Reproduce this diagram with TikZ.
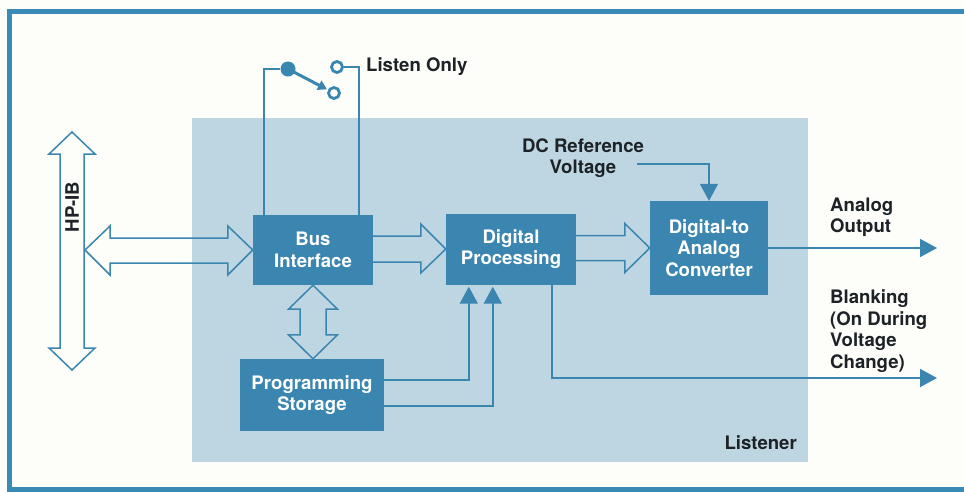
\documentclass[tikz,border=0pt]{standalone}
\usepackage{fontspec}
\setsansfont{TeX Gyre Heros}
\usetikzlibrary{calc,arrows.meta}
\definecolor{frameblue}{RGB}{58,138,182}
\definecolor{panelblue}{RGB}{190,214,226}
\definecolor{boxblue}{RGB}{58,134,176}
\definecolor{ink}{RGB}{28,34,38}
\definecolor{paper}{RGB}{253,253,250}
\begin{document}
\begin{tikzpicture}[x=1pt,y=-1pt,
  font=\sffamily\bfseries\fontsize{18.6}{21.5}\selectfont,
  block/.style={fill=boxblue, text=white, align=center, inner sep=0pt},
  txt/.style={text=ink, align=left, inner sep=0pt},
  hollow/.style={draw=boxblue, line width=1.5pt, line join=miter},
  wire/.style={draw=boxblue, line width=1.7pt},
  sig/.style={draw=boxblue, line width=1.7pt, -{Triangle[length=17pt,width=18pt]}},
  contact/.style={circle, draw=boxblue, line width=2.8pt, minimum size=11pt, inner sep=0pt},
  pivotdot/.style={circle, fill=boxblue, minimum size=15pt, inner sep=0pt},
]
% page and frame
\fill[paper] (0,0) rectangle (964,491);
\useasboundingbox (0,0) rectangle (964,491);
\draw[frameblue, line width=5pt, line join=miter] (964,11) -- (9.5,11) -- (9.5,489) -- (964,489);

% listener panel
\fill[panelblue] (192,118) rectangle (808,462);
\node[txt, anchor=east] (listener) at (797,443) {Listener};

% function blocks
\node[block, minimum width=120pt, minimum height=70pt] (bus) at (313,250) {Bus\\Interface};
\node[block, minimum width=130pt, minimum height=71pt] (dp) at (511,249) {Digital\\Processing};
\node[block, minimum width=118pt, minimum height=94pt] (dac) at (709,248) {Digital-to\\Analog\\Converter};
\node[block, minimum width=144pt, minimum height=72pt] (ps) at (312,395) {Programming\\Storage};

% HP-IB bus
\draw[hollow] (72,132) -- (95,154) -- (84,154) -- (84,348) -- (95,348) -- (72,370)
  -- (49,348) -- (60,348) -- (60,154) -- (49,154) -- cycle;
\node[txt, rotate=90] (hpib) at (72,207) {HP-IB};
\coordinate (hpibR) at (85,250);

% HP-IB <-> bus interface
\draw[hollow] (bus.west) -- ++(-25,-24) -- ++(0,12) -- ($(hpibR)+(25,-12)$) -- ++(0,-12)
  -- (hpibR) -- ++(25,25) -- ++(0,-12) -- ($(bus.west)+(-25,13)$) -- ++(0,12) -- cycle;

% bus interface -> digital processing
\coordinate (a1) at (bus.east |- dp.west);
\draw[hollow] ($(a1)+(0,-13)$) -- ($(dp.west)+(-25,-13)$) -- ++(0,-12) -- (dp.west)
  -- ++(-25,24) -- ++(0,-11) -- ($(a1)+(0,13)$);

% digital processing -> converter
\coordinate (a2) at (dp.east |- dac.west);
\draw[hollow] ($(a2)+(0,-12.5)$) -- ($(dac.west)+(-25,-12.5)$) -- ++(0,-12) -- (dac.west)
  -- ++(-25,24.5) -- ++(0,-12) -- ($(a2)+(0,12.5)$);

% bus interface <-> programming storage
\coordinate (a3) at (bus.south |- ps.north);
\draw[hollow] (bus.south) -- ++(24.5,24) -- ++(-11.5,0) -- ($(a3)+(13,-24)$) -- ++(11.5,0)
  -- (a3) -- ++(-24.5,-24) -- ++(11.5,0) -- ($(bus.south)+(-13,24)$) -- ++(-11.5,0) -- cycle;

% programming storage -> digital processing
\draw[sig] ($(ps.east)+(0,-15)$) -| ($(dp.south west)+(23,2)$);
\draw[sig] ($(ps.east)+(0,11)$) -| ($(dp.south west)+(47,2)$);

% listen-only switch
\node[pivotdot] (pivot) at (288,69) {};
\node[contact] (ctop) at (337,67) {};
\node[contact] (cbot) at (334,93) {};
\draw[wire] ($(bus.north west)+(11,0)$) |- (pivot.west);
\draw[wire] (ctop.east) -| ($(bus.north east)+(-14,0)$);
\draw[boxblue, line width=3pt, -{Triangle[length=9pt,width=10pt]}, shorten >=1pt] (pivot.center) -- (cbot);
\node[txt, anchor=west] (listen) at (366,67) {Listen Only};

% reference voltage input
\node[txt, align=center] (dcref) at (583,158) {DC Reference\\Voltage};
\coordinate (dcfrom) at (637,164);
\draw[sig] (dcfrom) -| (dac.north);

% outputs
\coordinate (aout) at (937,248);
\coordinate (bout) at (937,378);
\draw[sig] (dac.east) -- (aout);
\draw[sig] ($(dp.south east)+(-24,0)$) |- (bout);
\node[txt, anchor=west] (aoutlbl) at (830,217) {Analog\\Output};
\node[txt, anchor=west] (boutlbl) at (830,331) {Blanking\\(On During\\Voltage\\Change)};
\end{tikzpicture}
\end{document}
